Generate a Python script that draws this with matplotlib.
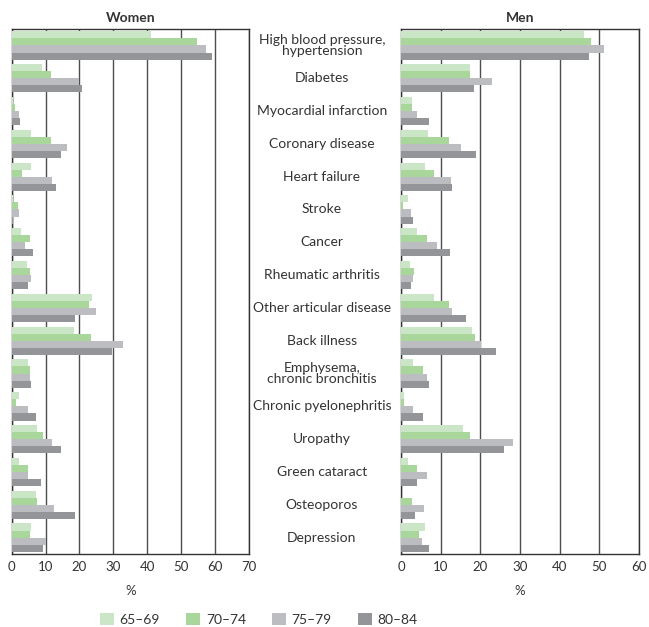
import matplotlib
matplotlib.use("Agg")
import matplotlib.pyplot as plt
from matplotlib.patches import Patch
import matplotlib.transforms as transforms
import numpy as np

plt.rcParams['font.family'] = ['Lato', 'DejaVu Sans']

# Categories (top to bottom)
categories = ["High blood pressure,\nhypertension", "Diabetes", "Myocardial infarction",
              "Coronary disease", "Heart failure", "Stroke", "Cancer", "Rheumatic arthritis",
              "Other articular disease", "Back illness", "Emphysema,\nchronic bronchitis",
              "Chronic pyelonephritis", "Uropathy", "Green cataract", "Osteoporos", "Depression"]
age_groups = ["65\u201369", "70\u201374", "75\u201379", "80\u201384"]
colors = ["#cbe6c6", "#a9d69b", "#bcbdc1", "#939598"]

# Women, % per age group
women_65 = [41.1, 9.0, 0.3, 5.7, 5.7, 0.3, 2.8, 4.5, 23.7, 18.4, 4.8, 2.2, 7.5, 2.2, 7.2, 5.7]
women_70 = [54.6, 11.6, 1.0, 11.6, 3.1, 1.9, 5.4, 5.4, 22.8, 23.4, 5.4, 1.2, 9.3, 4.8, 7.5, 5.4]
women_75 = [57.3, 19.8, 2.2, 16.3, 11.9, 2.2, 3.9, 5.7, 24.9, 32.9, 5.4, 4.8, 11.9, 4.8, 12.5, 10.1]
women_80 = [59.1, 20.8, 2.5, 14.6, 13.1, 0.3, 6.3, 4.8, 18.7, 29.6, 5.7, 7.2, 14.6, 8.7, 18.7, 9.3]

# Men, % per age group
men_65 = [46.2, 17.4, 2.8, 6.8, 6.1, 1.8, 4.0, 2.3, 8.3, 17.9, 3.0, 0.7, 15.7, 1.8, 0.0, 6.1]
men_70 = [48.0, 17.4, 2.8, 12.1, 8.3, 0.4, 6.6, 3.3, 12.1, 18.7, 5.6, 0.7, 17.4, 4.0, 2.8, 4.5]
men_75 = [51.3, 23.0, 4.0, 15.2, 12.6, 2.5, 9.1, 3.0, 12.9, 20.2, 6.6, 3.0, 28.3, 6.6, 5.8, 5.3]
men_80 = [47.5, 18.4, 7.1, 18.9, 12.9, 3.0, 12.4, 2.5, 16.4, 24.0, 7.1, 5.6, 26.0, 4.0, 3.5, 7.1]

women = [women_65, women_70, women_75, women_80]
men = [men_65, men_70, men_75, men_80]

fig = plt.figure(figsize=(6.49, 6.27), dpi=100)
ax_w = fig.add_axes([0.018, 0.1164, 0.3657, 0.8373])
ax_m = fig.add_axes([0.6179, 0.1164, 0.3663, 0.8373])

y = np.arange(len(categories))
h = 0.216


def draw(ax, series, xmax, title):
    for i, vals in enumerate(series):
        ax.barh(y - 1.5 * h + i * h, vals, height=h, color=colors[i], zorder=3)
    ax.set_xlim(0, xmax)
    ax.set_ylim(len(categories) - 0.5, -0.5)
    ax.set_xticks(np.arange(0, xmax + 1, 10))
    ax.set_yticks([])
    ax.grid(axis="x", color="#4d4d4d", linewidth=1.0, zorder=0)
    ax.tick_params(axis="x", length=0, labelsize=9.5, colors="#333333", pad=5)
    for s in ax.spines.values():
        s.set_color("#333333")
        s.set_linewidth(1.0)
    ax.set_xlabel("%", fontsize=9.5, color="#333333", labelpad=9)
    ax.set_title(title, fontsize=10, fontweight="bold", color="#333333", pad=5)


draw(ax_w, women, 70, "Women")
draw(ax_m, men, 60, "Men")

# Category labels between the panels
trans = transforms.blended_transform_factory(fig.transFigure, ax_w.transData)
for yi, cat in zip(y, categories):
    ax_w.text(0.496, yi, cat, transform=trans, ha="center", va="center",
              fontsize=10, color="#333333", linespacing=0.95, clip_on=False)

handles = [Patch(facecolor=c, edgecolor="none") for c in colors]
fig.legend(handles, age_groups, loc="lower left", bbox_to_anchor=(0.135, -0.018), ncol=4,
           frameon=False, fontsize=10, handlelength=1.0, handleheight=1.0,
           handletextpad=0.4, columnspacing=1.9, labelcolor="#333333")

fig.savefig("out.png", dpi=100)
